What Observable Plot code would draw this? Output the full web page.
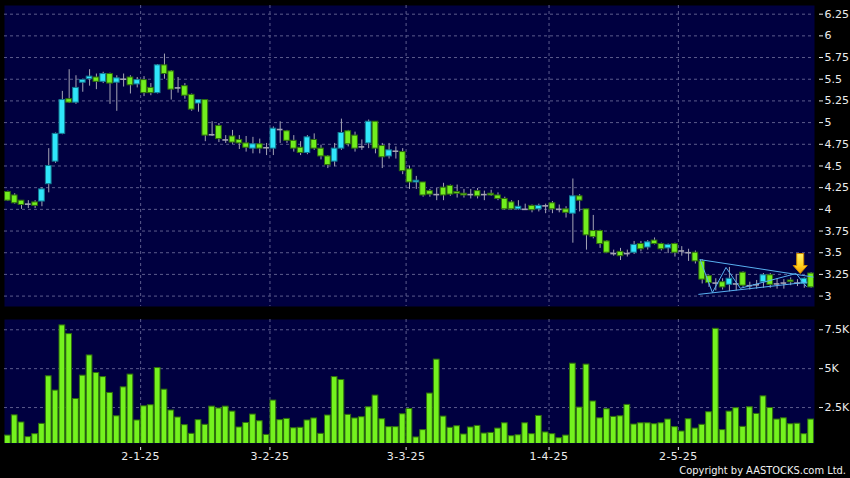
<!DOCTYPE html>
<html>
<head>
<meta charset="utf-8">
<script src="https://cdn.jsdelivr.net/npm/d3@7"></script>
<script src="https://cdn.jsdelivr.net/npm/@observablehq/plot@0.6"></script>
<style>
html,body{margin:0;padding:0;background:#000;}
#wrap{position:relative;width:850px;height:478px;background:#000;overflow:hidden;font-family:"DejaVu Sans",sans-serif;}
#price{position:absolute;left:0;top:0;}
#vol{position:absolute;left:0;top:315px;}
#copy{position:absolute;right:4px;top:464px;color:#f2f2f2;font-size:11px;line-height:13px;font-family:"DejaVu Sans Condensed","DejaVu Sans",sans-serif;white-space:nowrap;}
</style>
</head>
<body>
<div id="wrap">
  <div id="price"></div>
  <div id="vol"></div>
  <div id="copy">Copyright by AASTOCKS.com Ltd.</div>
</div>
<script>
// ---- data (one entry per trading session, Dec 2 2024 – May 30 2025) ----
const open = [4.20,4.16,4.10,4.06,4.08,4.09,4.29,4.55,4.87,5.27,
5.23,5.46,5.50,5.52,5.47,5.56,5.46,5.50,5.52,5.44,
5.49,5.40,5.34,5.66,5.59,5.40,5.42,5.32,5.22,5.26,
4.86,4.96,4.80,4.84,4.80,4.76,4.70,4.75,4.71,4.70,
4.92,4.90,4.79,4.71,4.65,4.80,4.70,4.61,4.55,4.70,
4.90,4.85,4.72,4.76,5.01,4.73,4.61,4.67,4.66,4.46,
4.31,4.31,4.21,4.17,4.25,4.27,4.20,4.18,4.17,4.21,
4.17,4.18,4.16,4.12,4.08,4.00,4.00,4.04,4.00,4.04,
4.07,4.00,4.00,3.95,4.15,4.00,3.75,3.75,3.63,3.49,
3.51,3.49,3.50,3.60,3.56,3.64,3.60,3.55,3.60,3.52,
3.50,3.50,3.40,3.23,3.15,3.16,3.13,3.14,3.27,3.12,
3.13,3.16,3.24,3.14,3.15,3.18,3.15,3.14,3.26];

const high = [4.21,4.18,4.10,4.10,4.10,4.25,4.70,4.88,5.36,5.61,
5.54,5.50,5.61,5.56,5.58,5.57,5.54,5.56,5.54,5.52,
5.53,5.45,5.67,5.79,5.60,5.52,5.45,5.33,5.26,5.26,
5.01,4.99,4.85,4.91,4.85,4.84,4.83,4.81,4.76,4.95,
5.01,4.91,4.85,4.78,4.85,4.87,4.74,4.62,4.76,5.04,
4.91,4.89,4.80,5.03,5.01,4.76,4.76,4.72,4.70,4.50,
4.38,4.31,4.23,4.24,4.30,4.28,4.28,4.23,4.23,4.24,
4.21,4.22,4.19,4.14,4.10,4.10,4.06,4.05,4.06,4.06,
4.09,4.05,4.03,4.35,4.17,4.00,3.93,3.76,3.64,3.53,
3.55,3.53,3.63,3.63,3.64,3.67,3.61,3.60,3.61,3.57,
3.54,3.52,3.42,3.24,3.20,3.20,3.33,3.25,3.28,3.16,
3.18,3.26,3.26,3.20,3.19,3.21,3.19,3.21,3.27];

const low = [4.09,4.06,4.00,4.01,4.01,4.03,4.19,4.53,4.86,5.22,
5.21,5.35,5.42,5.38,5.45,5.21,5.13,5.41,5.33,5.40,
5.30,5.31,5.33,5.50,5.26,5.34,5.27,5.13,5.12,4.78,
4.84,4.77,4.76,4.75,4.69,4.66,4.64,4.64,4.62,4.62,
4.76,4.76,4.66,4.62,4.63,4.68,4.57,4.47,4.49,4.68,
4.72,4.66,4.68,4.70,4.64,4.47,4.58,4.58,4.40,4.23,
4.23,4.14,4.14,4.10,4.10,4.15,4.13,4.13,4.12,4.12,
4.10,4.15,4.10,3.99,3.99,3.99,3.99,3.96,3.97,3.95,
3.95,3.96,3.90,3.61,3.97,3.53,3.66,3.55,3.49,3.46,
3.41,3.45,3.48,3.51,3.53,3.59,3.52,3.49,3.45,3.46,
3.40,3.37,3.14,3.10,3.06,3.07,3.05,3.06,3.10,3.07,
3.08,3.09,3.09,3.08,3.08,3.12,3.11,3.09,3.09];

const close = [4.10,4.07,4.05,4.06,4.04,4.23,4.50,4.87,5.26,5.23,
5.40,5.49,5.53,5.47,5.56,5.45,5.51,5.50,5.43,5.49,
5.34,5.34,5.66,5.56,5.38,5.40,5.31,5.15,5.26,4.85,
4.86,4.81,4.80,4.77,4.76,4.71,4.75,4.70,4.71,4.93,
4.92,4.79,4.70,4.65,4.83,4.70,4.61,4.51,4.70,4.88,
4.75,4.70,4.72,5.01,4.70,4.60,4.68,4.67,4.44,4.31,
4.33,4.16,4.17,4.17,4.16,4.17,4.18,4.16,4.17,4.15,
4.17,4.16,4.12,4.00,4.00,4.03,4.00,3.99,4.04,4.04,
4.00,4.00,3.96,4.15,4.10,3.70,3.68,3.60,3.50,3.49,
3.46,3.49,3.59,3.54,3.62,3.60,3.54,3.59,3.50,3.52,
3.50,3.40,3.19,3.15,3.15,3.10,3.20,3.14,3.12,3.12,
3.13,3.24,3.13,3.14,3.15,3.16,3.15,3.20,3.10];

const volume = [700,2000,1540,600,790,1450,4510,3590,7780,7220,
3050,4550,5850,4720,4460,3440,1940,3800,4620,1670,
2580,2650,5040,3650,2310,1860,1370,810,1690,1390,
2560,2440,2560,2240,1220,1510,2050,1620,740,2950,
1690,1770,1170,1200,1670,1800,810,1990,4460,4270,
2030,1800,1880,2520,3270,1750,1240,1240,2070,2410,
580,1050,3400,5580,1920,1200,1300,770,1220,1320,
830,870,1150,1490,660,720,1490,790,1960,900,
790,530,700,5320,2500,5260,2890,1810,2390,1900,
1940,2670,1410,1490,1490,1430,1490,1730,1240,960,
1750,1150,1390,2200,7560,1050,2240,2460,1260,2520,
2090,3220,2470,1730,1810,1430,1460,790,1730];

// month-start session indices and their labels
const monthStartIdx = [20, 39, 59, 80, 99];
const monthLabels = ["2-1-25", "3-2-25", "3-3-25", "1-4-25", "2-5-25"];

const priceTicks = [3, 3.25, 3.5, 3.75, 4, 4.25, 4.5, 4.75, 5, 5.25, 5.5, 5.75, 6, 6.25];
const volumeTicks = [2500, 5000, 7500];
const volumeTickLabels = ["2.5K", "5K", "7.5K"];

// triangle pattern annotation (session index, price)
const triUpperI = [101.7, 118.3], triUpperV = [3.42, 3.22];
const triLowerI = [101.5, 117.4], triLowerV = [3.02, 3.16];
const zigI = [101.7, 103.5, 105.5, 107.6, 115.8, 117.3];
const zigV = [3.42, 3.04, 3.33, 3.09, 3.26, 3.11];
const arrowI = [116.4], arrowV = [3.26];

// ---- styling ----
const NAVY = "#000040";
const GRID = "#5c5c8c";
const WICK = "#a4a4b4";
const UP = "#2fe6fa", UP_EDGE = "#157a92";
const DOWN = "#72ee1e", DOWN_EDGE = "#2e6c0c";
const VOL = "#74f21e", VOL_EDGE = "#2f700c";
const TRI = "#58b0f0";
const HW = 0.42;

const n = open.length;
const xDomain = [-0.5, n - 0.5];
const candles = open.map((o, i) => ({i, o, h: high[i], l: low[i], c: close[i], v: volume[i]}));
const ups = candles.filter(d => d.c > d.o);
const downs = candles.filter(d => d.c < d.o);
const dojis = candles.filter(d => d.c === d.o);
const gridX = monthStartIdx.map(i => i - 0.5);
const labelAt = new Map(gridX.map((g, k) => [g, monthLabels[k]]));
const volLabelAt = new Map(volumeTicks.map((t, k) => [t, volumeTickLabels[k]]));

const triUpper = triUpperI.map((i, k) => ({i, v: triUpperV[k]}));
const triLower = triLowerI.map((i, k) => ({i, v: triLowerV[k]}));
const zig = zigI.map((i, k) => ({i, v: zigV[k]}));
const arrow = arrowI.map((i, k) => ({i, v: arrowV[k]}));

const arrowSymbol = {
  draw(ctx) {
    ctx.moveTo(-3.5, -20); ctx.lineTo(3.5, -20); ctx.lineTo(3.5, -8);
    ctx.lineTo(7, -8); ctx.lineTo(0, 0); ctx.lineTo(-7, -8);
    ctx.lineTo(-3.5, -8); ctx.closePath();
  }
};

const baseStyle = {background: "none", color: "#ececec", fontFamily: "DejaVu Sans, sans-serif", fontSize: "11px", overflow: "visible"};

const priceChart = Plot.plot({
  width: 850, height: 315,
  marginLeft: 4, marginRight: 36, marginTop: 5, marginBottom: 9,
  style: baseStyle,
  x: {domain: xDomain, axis: null},
  y: {domain: [2.88, 6.35], axis: null},
  marks: [
    Plot.frame({fill: NAVY, stroke: "none"}),
    Plot.ruleY(priceTicks, {stroke: GRID, strokeDasharray: "3,3"}),
    Plot.ruleX(gridX, {stroke: GRID, strokeDasharray: "3,3"}),
    Plot.axisY(priceTicks, {anchor: "right", label: null, tickSize: 4, dx: 4, tickPadding: 2, tickFormat: d => String(d)}),
    Plot.ruleX(candles, {x: "i", y1: "l", y2: "h", stroke: WICK}),
    Plot.rect(ups, {x1: d => d.i - HW, x2: d => d.i + HW, y1: "o", y2: "c", fill: UP, stroke: UP_EDGE}),
    Plot.rect(downs, {x1: d => d.i - HW, x2: d => d.i + HW, y1: "o", y2: "c", fill: DOWN, stroke: DOWN_EDGE}),
    Plot.ruleY(dojis, {y: "c", x1: d => d.i - HW, x2: d => d.i + HW, stroke: WICK, strokeWidth: 1.6}),
    Plot.line(triUpper, {x: "i", y: "v", stroke: TRI, strokeWidth: 1}),
    Plot.line(triLower, {x: "i", y: "v", stroke: TRI, strokeWidth: 1}),
    Plot.line(zig, {x: "i", y: "v", stroke: TRI, strokeWidth: 1}),
    Plot.dot(arrow, {x: "i", y: "v", symbol: arrowSymbol, fill: "url(#arrowGrad)", stroke: "#d08a00", strokeWidth: 1})
  ]
});

d3.select(priceChart).insert("defs", ":first-child").html(
  '<linearGradient id="arrowGrad" x1="0" y1="0" x2="0" y2="1">' +
  '<stop offset="0" stop-color="#fff36a"/><stop offset="0.6" stop-color="#ffd21e"/>' +
  '<stop offset="1" stop-color="#f29a00"/></linearGradient>');

const volChart = Plot.plot({
  width: 850, height: 163,
  marginLeft: 4, marginRight: 36, marginTop: 4, marginBottom: 35,
  style: baseStyle,
  x: {domain: xDomain, axis: null},
  y: {domain: [190, 8160], axis: null},
  marks: [
    Plot.frame({fill: NAVY, stroke: "none"}),
    Plot.ruleY(volumeTicks, {stroke: GRID, strokeDasharray: "3,3"}),
    Plot.ruleX(gridX, {stroke: GRID, strokeDasharray: "3,3"}),
    Plot.rect(candles, {x1: d => d.i - HW, x2: d => d.i + HW, y1: 0, y2: "v", fill: VOL, stroke: VOL_EDGE, clip: true}),
    Plot.axisY(volumeTicks, {anchor: "right", label: null, tickSize: 4, dx: 4, tickPadding: 2, tickFormat: d => volLabelAt.get(d)}),
    Plot.axisX(gridX, {anchor: "bottom", label: null, tickSize: 3, dy: 4, tickPadding: 2, tickFormat: d => labelAt.get(d)})
  ]
});

document.getElementById("price").appendChild(priceChart);
document.getElementById("vol").appendChild(volChart);
d3.select(volChart).selectAll('[aria-label="x-axis tick label"] text').style("letter-spacing", "0.5px");
</script>
</body>
</html>
